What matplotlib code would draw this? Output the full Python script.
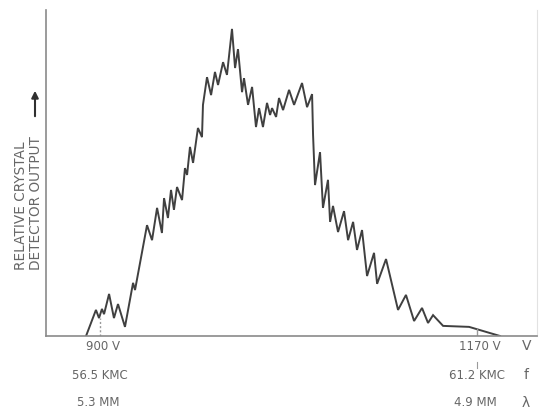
import matplotlib.pyplot as plt

# beam voltage (V) and relative crystal detector output (0-100, axis top = 100)
volts = [890.0, 897.1, 899.3, 901.4, 902.9, 906.5, 910.0, 912.9, 917.9, 923.7,
         925.1, 933.7, 937.3, 940.9, 944.4, 945.9, 948.7, 950.9, 953.0, 955.2,
         958.8, 960.9, 962.4, 964.5, 966.7, 970.2, 973.1, 973.8, 976.7, 979.6,
         982.4, 984.6, 988.2, 991.0, 994.6, 996.8, 998.9, 1001.8, 1003.2, 1006.1,
         1009.0, 1011.8, 1014.0, 1016.8, 1019.7, 1021.9, 1023.3, 1026.2, 1028.3, 1031.2,
         1035.5, 1039.1, 1044.8, 1048.4, 1052.0, 1052.7, 1054.1, 1057.7, 1059.8, 1063.4,
         1064.9, 1067.0, 1070.6, 1074.9, 1077.8, 1081.4, 1084.2, 1087.8, 1091.4, 1096.4,
         1098.6, 1105.0, 1113.6, 1119.3, 1125.1, 1130.8, 1135.1, 1138.7, 1145.9, 1164.5,
         1186.7]
output = [0.0, 8.0, 5.5, 8.3, 6.7, 12.9, 5.5, 9.8, 2.8, 16.3,
          14.1, 34.0, 29.4, 39.3, 31.6, 42.3, 36.2, 44.8, 38.7, 45.7,
          41.7, 51.5, 49.4, 58.0, 53.1, 63.8, 61.0, 70.9, 79.4, 73.9,
          81.0, 77.0, 84.0, 80.1, 94.2, 82.2, 88.0, 74.8, 79.1, 70.9,
          76.4, 64.1, 69.9, 64.1, 71.5, 67.8, 69.9, 67.2, 73.0, 69.3,
          75.5, 70.9, 77.6, 70.2, 74.2, 61.7, 46.3, 56.4, 39.3, 47.9,
          35.0, 39.9, 31.9, 38.3, 29.4, 35.0, 26.4, 32.5, 18.4, 25.5,
          16.0, 23.6, 8.0, 12.6, 4.6, 8.6, 4.0, 6.4, 3.1, 2.8,
          0.0]

mark_v = [900, 1170]
row_v = ["900 V", "1170 V"]
row_f = ["56.5 KMC", "61.2 KMC"]
row_lam = ["5.3 MM", "4.9 MM"]
row_names = ["V", "f", "λ"]

ink = "#404040"
grey = "#666666"

fig = plt.figure(figsize=(5.39, 4.12), dpi=100)
ax = fig.add_axes([46 / 539, 76 / 412, 491 / 539, 326 / 412])

ax.plot(volts, output, color=ink, lw=1.4, solid_joinstyle="miter")
ax.set_xlim(861.3, 1213.2)
ax.set_ylim(0, 100)
ax.set_xticks([])
ax.set_yticks([])

for s in ["left", "bottom"]:
    ax.spines[s].set_color("#8a8a8a")
    ax.spines[s].set_linewidth(1.2)
ax.spines["top"].set_visible(False)
ax.spines["right"].set_color("#e2e2e2")

# marks at the two calibration voltages
tr = ax.get_xaxis_transform()
ax.plot([mark_v[0], mark_v[0]], [0, 0.055], color="#9a9a9a", lw=1, ls=(0, (1.5, 1.5)), transform=tr)
ax.plot([mark_v[1], mark_v[1]], [0, 0.02], color="#9a9a9a", lw=1, transform=tr)
ax.plot([mark_v[1], mark_v[1]], [-0.08, -0.097], color="#9a9a9a", lw=0.8, transform=tr, clip_on=False)

for x, a, b, c in zip(mark_v, row_v, row_f, row_lam):
    ax.text(x + 2, -0.031, a, transform=tr, ha="center", va="center", fontsize=8.5, color=grey)
    ax.text(x, -0.12, b, transform=tr, ha="center", va="center", fontsize=8.5, color=grey)
    ax.text(x - 1, -0.205, c, transform=tr, ha="center", va="center", fontsize=8.5, color=grey)

for y, name in zip([-0.031, -0.12, -0.205], row_names):
    ax.text(0.978, y, name, transform=ax.transAxes, ha="center", va="center",
            fontsize=10, color=grey)

fig.text(21 / 539, 142 / 412, "RELATIVE CRYSTAL", rotation=90, ha="center", va="bottom",
         fontsize=9.8, color=grey)
fig.text(36 / 539, 142 / 412, "DETECTOR OUTPUT", rotation=90, ha="center", va="bottom",
         fontsize=9.8, color=grey)
ax.annotate("", xy=(35 / 539, 324 / 412), xytext=(35 / 539, 293 / 412),
            xycoords="figure fraction", textcoords="figure fraction",
            arrowprops=dict(arrowstyle="-|>", color="#303030", lw=1.5, mutation_scale=10))

fig.savefig("out.png", dpi=100)
